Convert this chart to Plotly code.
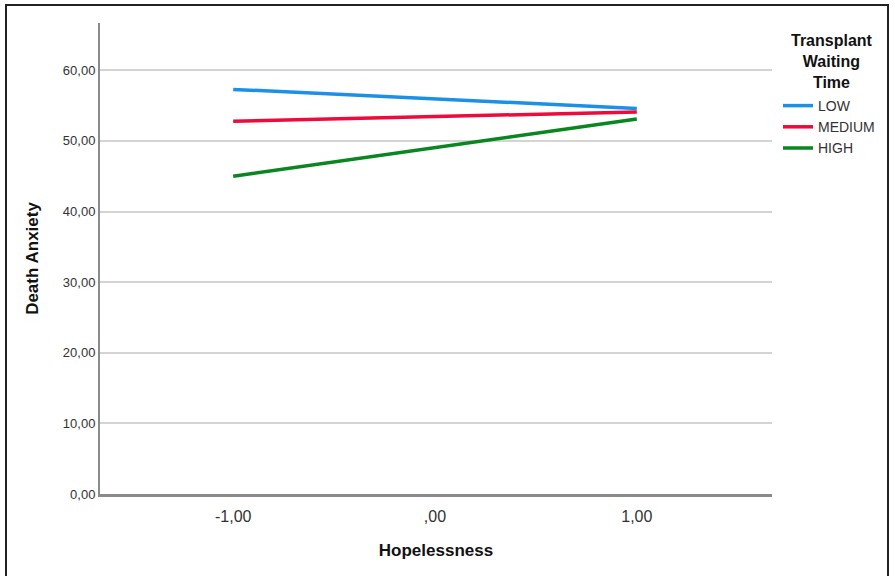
import plotly.graph_objects as go

hopelessness = [-1, 1]
groups = ["LOW", "MEDIUM", "HIGH"]
low_vals = [57.3, 54.6]
medium_vals = [52.8, 54.1]
high_vals = [45.0, 53.1]
colors = ["#1C8FE6", "#EE0A3C", "#07871E"]

y_ticks = [0, 10, 20, 30, 40, 50, 60]
y_ticklabels = ["0,00", "10,00", "20,00", "30,00", "40,00", "50,00", "60,00"]
x_ticks = [-1, 0, 1]
x_ticklabels = ["-1,00", ",00", "1,00"]

fig = go.Figure()
for name, vals, c in zip(groups, [low_vals, medium_vals, high_vals], colors):
    fig.add_trace(go.Scatter(x=hopelessness, y=vals, mode="lines", name=name,
                             line=dict(color=c, width=3.5)))

PW, PH = 672, 471
fig.update_layout(
    width=895, height=576,
    margin=dict(l=100, r=123, t=23, b=82),
    plot_bgcolor="white", paper_bgcolor="white",
    font=dict(family="Liberation Sans, Arial, sans-serif", color="#222"),
    xaxis=dict(range=[-1.66, 1.67], tickvals=x_ticks, ticktext=x_ticklabels,
               showgrid=False, zeroline=False, showline=True, linecolor="#8a8a8a",
               linewidth=2.5, ticks="", ticklabelstandoff=6, tickfont=dict(size=16, color="#333"),
               title=dict(text="<b>Hopelessness</b>", font=dict(size=17, color="#111"), standoff=21)),
    yaxis=dict(range=[0, 66.7], tickvals=y_ticks, ticktext=y_ticklabels,
               showgrid=True, gridcolor="#d4d4d4", gridwidth=1.5, zeroline=False,
               showline=True, linecolor="#8a8a8a", linewidth=2, ticks="",
               tickfont=dict(size=13, color="#333"),
               title=dict(text="<b>Death Anxiety</b>", font=dict(size=17, color="#111"), standoff=20)),
    legend=dict(x=(778 - 100) / PW, y=(494 - 90) / PH, xanchor="left", yanchor="top",
                font=dict(size=14, color="#333"), itemwidth=30, tracegroupgap=0),
    annotations=[dict(text="<b>Transplant<br>Waiting<br>Time</b>", xref="paper", yref="paper",
                      x=(832 - 100) / PW, y=(494 - 30) / PH, xanchor="center", yanchor="top",
                      showarrow=False, align="center", font=dict(size=16, color="#111"))],
    shapes=[dict(type="rect", xref="paper", yref="paper",
                 x0=(6 - 100) / PW, x1=(888 - 100) / PW,
                 y0=(494 - 580) / PH, y1=(494 - 5) / PH,
                 line=dict(color="#222", width=2), fillcolor="rgba(0,0,0,0)", layer="below")],
)

fig.write_html("out.html", config={"displayModeBar": False},
               post_script="document.body.style.margin='0';")
